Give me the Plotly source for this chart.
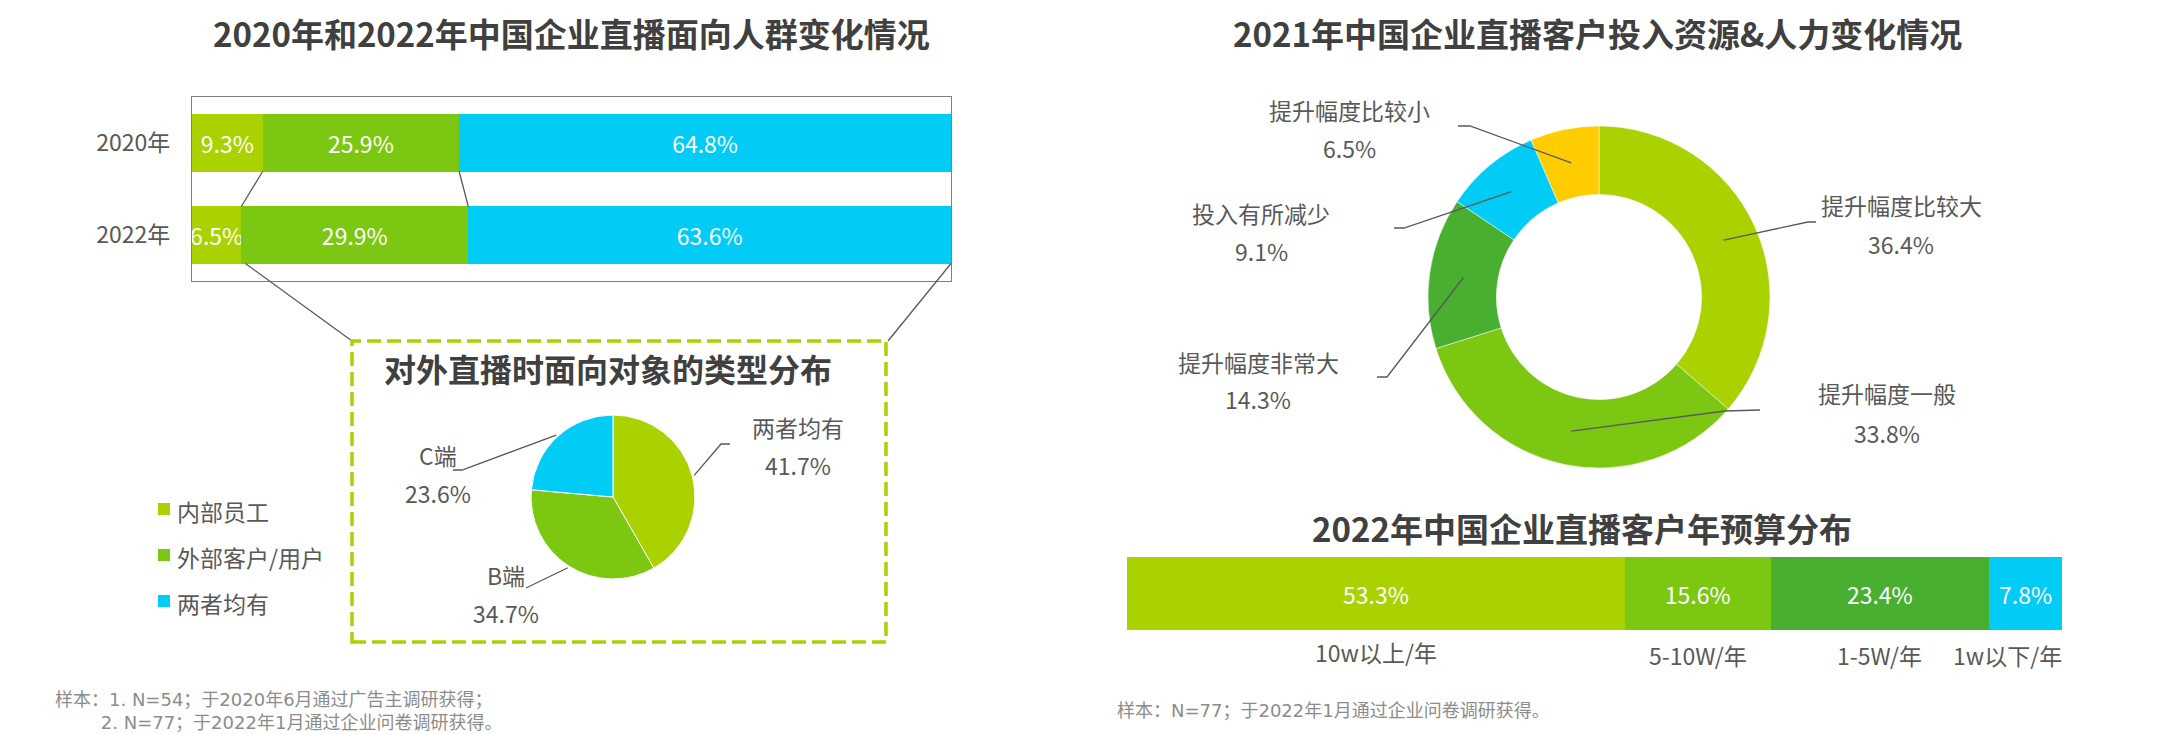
import math
import plotly.graph_objects as go

W, H = 2162, 734

# ---------------- data ----------------
years = ["2020年", "2022年"]
audience_groups = ["内部员工", "外部客户/用户", "两者均有"]
audience_2020 = [9.3, 25.9, 64.8]
audience_2022 = [6.5, 29.9, 63.6]

pie_labels = ["两者均有", "B端", "C端"]
pie_values = [41.7, 34.7, 23.6]

donut_labels = ["提升幅度比较大", "提升幅度一般", "提升幅度非常大", "投入有所减少", "提升幅度比较小"]
donut_values = [36.4, 33.8, 14.3, 9.1, 6.5]

budget_labels = ["10w以上/年", "5-10W/年", "1-5W/年", "1w以下/年"]
budget_values = [53.3, 15.6, 23.4, 7.8]

# ---------------- style ----------------
LG, MG, DG, CY, YE = "#AAD200", "#7BC712", "#49AF30", "#00CCF5", "#FFCC00"
FONT = "Noto Sans CJK SC"
NOTE_FONT = "DejaVu Sans, Noto Sans CJK SC"
TXT = "#595959"
TITLE = "#404040"
NOTE = "#8c8c8c"
LINE = "#595959"
LAB = 23
TSZ = 33


def px(x):
    return x / W


def py(y):
    return 1 - y / H


fig = go.Figure()

# ---------- left stacked bar ----------
bar_colors = [LG, MG, CY]
for i, g in enumerate(audience_groups):
    vals = [audience_2020[i], audience_2022[i]]
    fig.add_trace(go.Bar(
        y=years, x=vals, orientation="h", name=g, width=0.62,
        marker=dict(color=bar_colors[i], line=dict(width=0)),
        text=[f"{v}%" for v in vals], textposition="inside", insidetextanchor="middle",
        textangle=0, constraintext="none",
        textfont=dict(color="white", size=LAB, family=FONT),
        xaxis="x", yaxis="y", showlegend=False, hoverinfo="x+name"))

BOX_L, BOX_R, BOX_T, BOX_B = 192, 951, 97, 281
# ---------- pie ----------
PIE_CX, PIE_CY, PIE_R = 613, 497, 82
fig.add_trace(go.Pie(
    labels=pie_labels, values=pie_values, sort=False, direction="clockwise",
    marker=dict(colors=[LG, MG, CY], line=dict(color="white", width=1)),
    textinfo="none", showlegend=False,
    domain=dict(x=[px(PIE_CX - PIE_R), px(PIE_CX + PIE_R)],
                y=[py(PIE_CY + PIE_R), py(PIE_CY - PIE_R)])))

# ---------- donut ----------
DN_CX, DN_CY, DN_R = 1599, 297, 171
fig.add_trace(go.Pie(
    labels=donut_labels, values=donut_values, sort=False, direction="clockwise", hole=0.6,
    marker=dict(colors=[LG, MG, DG, CY, YE], line=dict(color="white", width=0.5)),
    textinfo="none", showlegend=False,
    domain=dict(x=[px(DN_CX - DN_R), px(DN_CX + DN_R)],
                y=[py(DN_CY + DN_R), py(DN_CY - DN_R)])))

# ---------- budget bar ----------
budget_colors = [LG, MG, DG, CY]
for i, lab in enumerate(budget_labels):
    fig.add_trace(go.Bar(
        y=[0], x=[budget_values[i]], orientation="h", name=lab, width=1.0,
        marker=dict(color=budget_colors[i], line=dict(width=0)),
        text=[f"{budget_values[i]}%"], textposition="inside", insidetextanchor="middle",
        textangle=0, constraintext="none",
        textfont=dict(color="white", size=LAB, family=FONT),
        xaxis="x2", yaxis="y2", showlegend=False, hoverinfo="x+name"))

BB_L, BB_R, BB_T, BB_B = 1127, 2062, 557, 630

fig.update_layout(
    width=W, height=H, margin=dict(l=0, r=0, t=0, b=0),
    paper_bgcolor="white", plot_bgcolor="white", barmode="stack",
    font=dict(family=FONT, color=TXT, size=LAB),
    xaxis=dict(domain=[px(BOX_L), px(BOX_R)], range=[0, 100], showgrid=False, zeroline=False,
               showticklabels=False, showline=True, mirror=True, linecolor="#7f7f7f", linewidth=1.3,
               fixedrange=True),
    yaxis=dict(domain=[py(BOX_B), py(BOX_T)], type="category", categoryorder="array",
               categoryarray=years, range=[1.5, -0.5], showgrid=False, zeroline=False,
               showline=True, mirror=True, linecolor="#7f7f7f", linewidth=1.3,
               ticks="outside", ticklen=16, tickcolor="rgba(0,0,0,0)",
               tickfont=dict(size=LAB, color=TXT, family=FONT), fixedrange=True),
    xaxis2=dict(domain=[px(BB_L), px(BB_R)], range=[0, sum(budget_values)], visible=False,
                fixedrange=True),
    yaxis2=dict(domain=[py(BB_B), py(BB_T)], range=[-0.5, 0.5], visible=False, fixedrange=True),
)

ann = []
shapes = []


def text(x, y, s, size=LAB, color=TXT, bold=False, xanchor="center", family=FONT, **kw):
    ann.append(dict(x=px(x), y=py(y), xref="paper", yref="paper", text=f"<b>{s}</b>" if bold else s,
                    showarrow=False, xanchor=xanchor, yanchor="middle",
                    font=dict(size=size, color=color, family=family), **kw))


def polyline(points, color=LINE, width=1.5, dash=None):
    path = "M " + " L ".join(f"{px(x):.6f},{py(y):.6f}" for x, y in points)
    line = dict(color=color, width=width)
    if dash:
        line["dash"] = dash
    shapes.append(dict(type="path", xref="paper", yref="paper", path=path, line=line, layer="above"))


# titles
text(571, 33, "2020年和2022年中国企业直播面向人群变化情况", size=TSZ, color=TITLE, bold=True)
text(1597, 33, "2021年中国企业直播客户投入资源&人力变化情况", size=TSZ, color=TITLE, bold=True)
text(1582, 528, "2022年中国企业直播客户年预算分布", size=TSZ, color=TITLE, bold=True)
text(608, 368, "对外直播时面向对象的类型分布", size=32, color=TITLE, bold=True)

# legend (custom) for the left bars
leg_y = [509, 555, 601]
for g, c, yy in zip(audience_groups, bar_colors, leg_y):
    shapes.append(dict(type="rect", xref="paper", yref="paper", x0=px(158), x1=px(170),
                       y0=py(yy + 6), y1=py(yy - 6), fillcolor=c, line=dict(width=0)))
    text(175, yy + 2, g, xanchor="left")

# connector lines between bars and zoom box
row_h = (BOX_B - BOX_T) / 2
half = 0.31 * row_h
c2020 = BOX_T + row_h * 0.5
c2022 = BOX_T + row_h * 1.5


def bx(v):
    return BOX_L + v / 100 * (BOX_R - BOX_L)


b20_1 = bx(audience_2020[0])
b20_2 = bx(audience_2020[0] + audience_2020[1])
b22_1 = bx(audience_2022[0])
b22_2 = bx(audience_2022[0] + audience_2022[1])
polyline([(b20_1, c2020 + half), (b22_1, c2022 - half)], width=1.3)
polyline([(b20_2, c2020 + half), (b22_2, c2022 - half)], width=1.3)

DBX_L, DBX_R, DBX_T, DBX_B = 352, 886, 341, 642
polyline([(b22_1 + 4, c2022 + half), (DBX_L, DBX_T)], width=1.3)
polyline([(BOX_R, c2022 + half), (DBX_R + 2, DBX_T)], width=1.3)
shapes.append(dict(type="rect", xref="paper", yref="paper", x0=px(DBX_L), x1=px(DBX_R),
                   y0=py(DBX_B), y1=py(DBX_T), line=dict(color="#AAD200", width=3.5, dash="14px,6px"),
                   layer="above"))


# pie labels & leaders
def ring_point(cx, cy, r, values, i):
    tot = sum(values)
    frac = (sum(values[:i]) + values[i] / 2) / tot
    th = 2 * math.pi * frac
    return (cx + r * math.sin(th), cy - r * math.cos(th))


pie_label_pos = [((798, 427), (798, 465)), ((506, 575), (506, 613)), ((438, 455), (438, 493))]
pie_leader = [[(721, 444), (730, 444)], [(526, 588)], [(462, 470), (453, 470)]]
for i, lab in enumerate(pie_labels):
    (nx, ny), (vx, vy) = pie_label_pos[i]
    text(nx, ny, lab)
    text(vx, vy, f"{pie_values[i]}%")
    polyline([ring_point(PIE_CX, PIE_CY, PIE_R + 2, pie_values, i)] + pie_leader[i], width=1.3)

# donut labels & leaders
dn_label_pos = [((1901, 205), (1901, 244)), ((1887, 393), (1887, 433)), ((1258, 362), (1258, 399)),
                ((1261, 213), (1261, 251)), ((1349, 110), (1349, 148))]
dn_leader = [[(1808, 222), (1816, 222)], [(1725, 411), (1760, 410)], [(1387, 377), (1377, 377)],
             [(1404, 228), (1394, 228)], [(1470, 126), (1458, 126)]]
for i, lab in enumerate(donut_labels):
    (nx, ny), (vx, vy) = dn_label_pos[i]
    text(nx, ny, lab)
    text(vx, vy, f"{donut_values[i]}%")
    polyline([ring_point(DN_CX, DN_CY, 137, donut_values, i)] + dn_leader[i], width=1.3)

# budget category labels under the bar (positioned at segment centres)
cum = 0
label_y = [652, 655, 655, 655]
label_shift = [0, 0, 0, -18]
for i, lab in enumerate(budget_labels):
    mid = cum + budget_values[i] / 2
    cum += budget_values[i]
    ann.append(dict(x=mid, xref="x2", y=py(label_y[i]), yref="paper", text=lab, showarrow=False,
                    xanchor="center", yanchor="middle", xshift=label_shift[i],
                    font=dict(size=LAB, color=TXT, family=FONT)))

# footnotes
note_left = ("样本：1. N=54；于2020年6月通过广告主调研获得；<br>"
             + "&nbsp;" * 8 + "2. N=77；于2022年1月通过企业问卷调研获得。")
text(53, 711, note_left, size=18, color=NOTE, xanchor="left", family=NOTE_FONT, align="left")
text(1115, 710, "样本：N=77；于2022年1月通过企业问卷调研获得。", size=18, color=NOTE,
     xanchor="left", family=NOTE_FONT)

fig.update_layout(annotations=ann, shapes=shapes)
fig.write_html("out.html", config={"displayModeBar": False},
               post_script="document.body.style.margin='0';")
